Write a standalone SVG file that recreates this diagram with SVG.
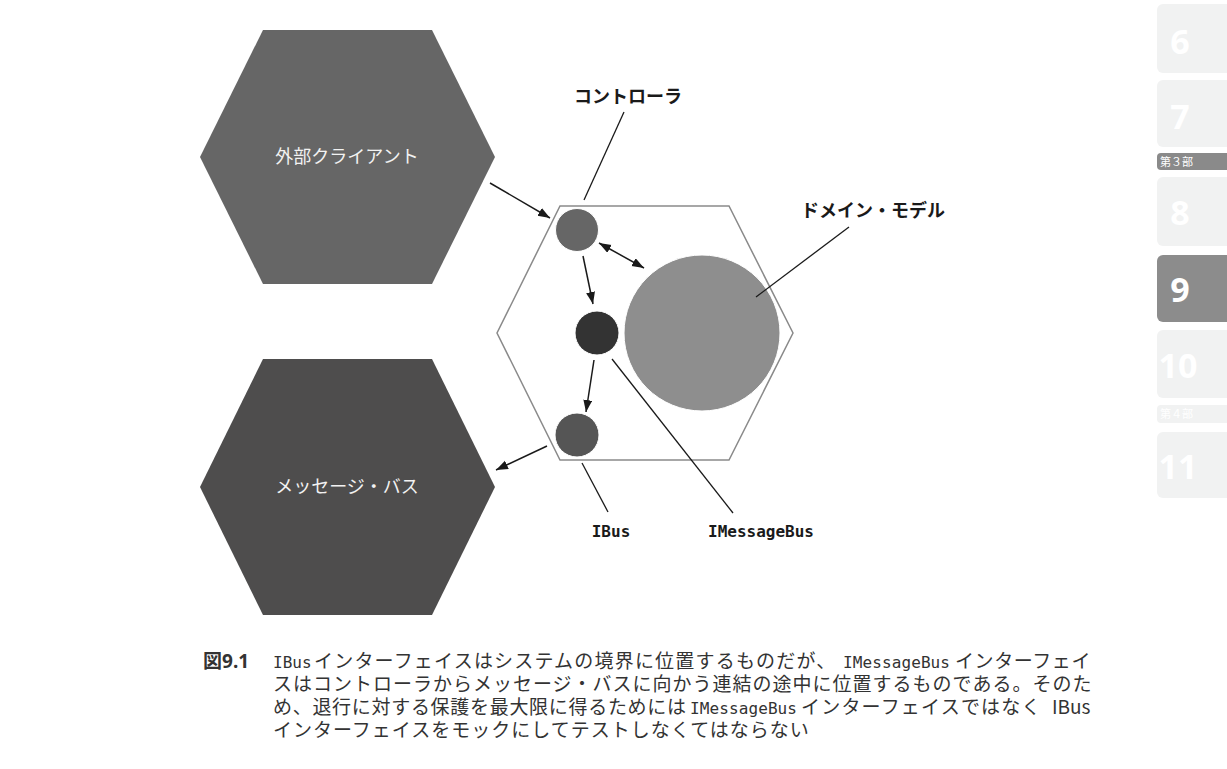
<svg xmlns="http://www.w3.org/2000/svg" width="1227" height="769" viewBox="0 0 1227 769">
<style>
.lbl{font-family:"Noto Sans CJK JP","Noto Sans",sans-serif;font-size:18px;font-weight:bold;fill:#1a1a1a;text-anchor:middle}
.hexlbl{font-family:"Noto Sans CJK JP","Noto Sans",sans-serif;font-size:18px;fill:#f2f2f2;text-anchor:middle}
.mono{font-family:"DejaVu Sans Mono","Liberation Mono",monospace;font-size:16px;font-weight:bold;fill:#1a1a1a;text-anchor:middle}
.cap{font-family:"Noto Sans CJK JP","Noto Sans",sans-serif;font-size:19px;fill:#333}
.cm{font-family:"DejaVu Sans Mono","Liberation Mono",monospace;font-size:16px;fill:#333}
.conn{stroke:#1a1a1a;stroke-width:1.5;fill:none}
.lead{stroke:#1a1a1a;stroke-width:1.3;fill:none}
.tab{fill:#f1f2f2}
.tabn{font-family:"Noto Sans","Liberation Sans",sans-serif;font-size:34px;font-weight:bold;fill:#ffffff;text-anchor:middle}
</style>
<defs>
<marker id="ah" markerUnits="userSpaceOnUse" markerWidth="13" markerHeight="10" refX="12" refY="4.5" orient="auto-start-reverse">
<path d="M0,0 L12,4.5 L0,9 z" fill="#1a1a1a"/>
</marker>
</defs>
<rect width="1227" height="769" fill="#ffffff"/>

<g id="client">
<polygon points="263,30 432,30 495,157 432,284 263,284 200,157" fill="#666666"/>
<text class="hexlbl" x="347" y="163">外部クライアント</text>
</g>
<g id="messagebus">
<polygon points="263,359 432,359 495,487 432,615 263,615 200,487" fill="#4e4d4d"/>
<text class="hexlbl" x="347" y="493">メッセージ・バス</text>
</g>

<g id="domain-model">
<circle cx="702" cy="333" r="78" fill="#8e8e8e" stroke="#ffffff" stroke-width="1"/>
</g>
<g id="controller">
<circle cx="577" cy="230" r="21.5" fill="#666666" stroke="#ffffff" stroke-width="1"/>
</g>
<g id="imessagebus">
<circle cx="597" cy="333" r="22" fill="#333333" stroke="#ffffff" stroke-width="1"/>
</g>
<g id="ibus">
<circle cx="577" cy="435" r="22" fill="#555555" stroke="#ffffff" stroke-width="1"/>
</g>
<g id="system">
<polygon points="560,206 729,206 793,333 729,460 560,460 497,333" fill="none" stroke="#8a8a8a" stroke-width="1.5"/>
</g>

<g id="connectors">
<line class="conn" x1="490" y1="183" x2="550" y2="218" marker-end="url(#ah)"/>
<line class="conn" x1="599" y1="243" x2="644" y2="268" marker-start="url(#ah)" marker-end="url(#ah)"/>
<line class="conn" x1="583" y1="256" x2="593" y2="304" marker-end="url(#ah)"/>
<line class="conn" x1="594" y1="360" x2="586" y2="412" marker-end="url(#ah)"/>
<line class="conn" x1="547" y1="446" x2="496" y2="470" marker-end="url(#ah)"/>
<line class="lead" x1="624" y1="112" x2="584" y2="200"/>
<line class="lead" x1="849" y1="227" x2="756" y2="297"/>
<line class="lead" x1="582" y1="463" x2="608" y2="512"/>
<line class="lead" x1="612" y1="359" x2="733" y2="513"/>
</g>

<g id="labels">
<text class="lbl" x="628" y="103">コントローラ</text>
<text class="lbl" x="873" y="217">ドメイン・モデル</text>
<text class="mono" x="611" y="537">IBus</text>
<text class="mono" x="761" y="537">IMessageBus</text>
</g>

<g id="caption">
<text x="203" y="668" font-family="'Noto Sans CJK JP','Noto Sans',sans-serif" font-size="19" font-weight="bold" fill="#333">図<tspan font-family="'Noto Sans','Liberation Sans',sans-serif">9.1</tspan></text>
<text class="cm" x="273" y="668">IBus</text>
<text class="cap" x="314" y="668" letter-spacing="1.2">インターフェイスはシステムの境界に位置するものだが、</text>
<text class="cm" x="843" y="668" textLength="107" lengthAdjust="spacing">IMessageBus</text>
<text class="cap" x="955" y="668" letter-spacing="0.6">インターフェイ</text>
<text class="cap" x="273" y="691" letter-spacing="1">スはコントローラからメッセージ・バスに向かう連結の途中に位置するものである。そのた</text>
<text class="cap" x="273" y="714" letter-spacing="0.7">め、退行に対する保護を最大限に得るためには</text>
<text class="cm" x="690" y="714" textLength="107" lengthAdjust="spacing">IMessageBus</text>
<text class="cap" x="801" y="714" letter-spacing="1.2">インターフェイスではなく</text>
<text class="cap" x="1052" y="714" font-family="'Noto Sans','Liberation Sans',sans-serif">IBus</text>
<text class="cap" x="273" y="737" letter-spacing="1">インターフェイスをモックにしてテストしなくてはならない</text>
</g>

<g id="side-tabs">
<rect class="tab" x="1157" y="4" width="80" height="69" rx="6"/>
<text class="tabn" x="1180" y="54">6</text>
<rect class="tab" x="1157" y="80" width="80" height="67" rx="6"/>
<text class="tabn" x="1180" y="129">7</text>
<rect x="1157" y="153" width="80" height="17" rx="4" fill="#8a8a8a"/>
<text x="1160" y="166" font-family="'Noto Sans CJK JP',sans-serif" font-size="11" fill="#ffffff">第３部</text>
<rect class="tab" x="1157" y="177" width="80" height="69" rx="6"/>
<text class="tabn" x="1180" y="225">8</text>
<rect x="1157" y="255" width="80" height="67" rx="6" fill="#8c8c8c"/>
<text class="tabn" x="1180" y="302">9</text>
<rect class="tab" x="1157" y="330" width="80" height="68" rx="6"/>
<text class="tabn" x="1178" y="378">10</text>
<rect class="tab" x="1157" y="405" width="80" height="18" rx="4"/>
<text x="1160" y="418" font-family="'Noto Sans CJK JP',sans-serif" font-size="11" fill="#ffffff">第４部</text>
<rect class="tab" x="1157" y="432" width="80" height="66" rx="6"/>
<text class="tabn" x="1178" y="479">11</text>
</g>
</svg>
